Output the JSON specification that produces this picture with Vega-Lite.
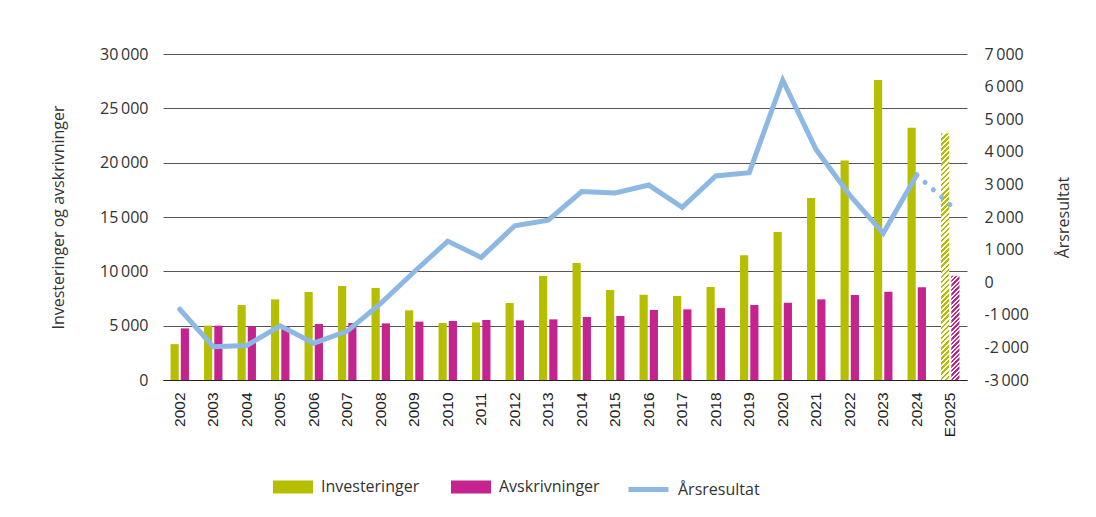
{
  "$schema": "https://vega.github.io/schema/vega-lite/v6.json",
  "width": 804,
  "height": 326,
  "autosize": "none",
  "padding": {"left": 163, "top": 54, "right": 129, "bottom": 137},
  "background": "#ffffff",
  "config": {
    "locale": {"number": {"decimal": ",", "thousands": "\u2009", "grouping": [3], "currency": ["", " kr"], "minus": "-"}},
    "font": "Open Sans",
    "view": {"stroke": null},
    "axis": {
      "labelFont": "Open Sans", "labelFontSize": 16, "labelColor": "#333333",
      "titleFont": "Open Sans", "titleFontSize": 16, "titleFontWeight": "normal", "titleColor": "#333333",
      "ticks": false, "domain": false
    },
    "legend": {"labelFont": "Open Sans", "labelFontSize": 16, "labelColor": "#333333"}
  },
  "data": {"values": [
    {"year": "2002", "Investeringer": 3300, "Avskrivninger": 4750, "Arsresultat": -830},
    {"year": "2003", "Investeringer": 5000, "Avskrivninger": 5000, "Arsresultat": -1980},
    {"year": "2004", "Investeringer": 6900, "Avskrivninger": 4950, "Arsresultat": -1940},
    {"year": "2005", "Investeringer": 7420, "Avskrivninger": 4900, "Arsresultat": -1340},
    {"year": "2006", "Investeringer": 8090, "Avskrivninger": 5150, "Arsresultat": -1870},
    {"year": "2007", "Investeringer": 8650, "Avskrivninger": 5240, "Arsresultat": -1500},
    {"year": "2008", "Investeringer": 8460, "Avskrivninger": 5210, "Arsresultat": -650},
    {"year": "2009", "Investeringer": 6410, "Avskrivninger": 5370, "Arsresultat": 320},
    {"year": "2010", "Investeringer": 5240, "Avskrivninger": 5430, "Arsresultat": 1260},
    {"year": "2011", "Investeringer": 5300, "Avskrivninger": 5520, "Arsresultat": 760},
    {"year": "2012", "Investeringer": 7080, "Avskrivninger": 5490, "Arsresultat": 1730},
    {"year": "2013", "Investeringer": 9570, "Avskrivninger": 5580, "Arsresultat": 1900},
    {"year": "2014", "Investeringer": 10760, "Avskrivninger": 5800, "Arsresultat": 2780},
    {"year": "2015", "Investeringer": 8280, "Avskrivninger": 5890, "Arsresultat": 2740},
    {"year": "2016", "Investeringer": 7850, "Avskrivninger": 6440, "Arsresultat": 2980},
    {"year": "2017", "Investeringer": 7730, "Avskrivninger": 6500, "Arsresultat": 2300},
    {"year": "2018", "Investeringer": 8560, "Avskrivninger": 6620, "Arsresultat": 3260},
    {"year": "2019", "Investeringer": 11470, "Avskrivninger": 6900, "Arsresultat": 3360},
    {"year": "2020", "Investeringer": 13610, "Avskrivninger": 7110, "Arsresultat": 6200},
    {"year": "2021", "Investeringer": 16740, "Avskrivninger": 7420, "Arsresultat": 4060},
    {"year": "2022", "Investeringer": 20210, "Avskrivninger": 7820, "Arsresultat": 2670},
    {"year": "2023", "Investeringer": 27600, "Avskrivninger": 8120, "Arsresultat": 1500},
    {"year": "2024", "Investeringer": 23210, "Avskrivninger": 8530, "Arsresultat": 3290},
    {"year": "E2025", "Investeringer": 22700, "Avskrivninger": 9600, "Arsresultat": 2370}
  ]},
  "encoding": {
    "x": {
      "field": "year", "type": "nominal", "sort": null,
      "scale": {"domain": ["2002","2003","2004","2005","2006","2007","2008","2009","2010","2011","2012","2013","2014","2015","2016","2017","2018","2019","2020","2021","2022","2023","2024","E2025"], "paddingInner": 0.45, "paddingOuter": 0.225},
      "axis": {"title": null, "labelAngle": -90, "labelFont": "Liberation Sans", "labelFontSize": 15.5, "labelPadding": 12, "labelColor": "#222222", "domain": true, "domainColor": "#222222", "domainWidth": 1}
    }
  },
  "layer": [
    {
      "transform": [{"fold": ["Investeringer", "Avskrivninger"], "as": ["serie", "verdi"]}],
      "encoding": {
        "xOffset": {"field": "serie", "type": "nominal", "scale": {"domain": ["Investeringer", "Avskrivninger"], "paddingInner": 0.2, "paddingOuter": 0}},
        "y": {
          "field": "verdi", "type": "quantitative",
          "scale": {"domain": [0, 30000], "nice": false},
          "axis": {"orient": "left", "values": [0, 5000, 10000, 15000, 20000, 25000, 30000], "format": ",d", "grid": true, "gridColor": "#555555", "gridWidth": 1, "labelPadding": 15, "title": "Investeringer og avskrivninger", "titlePadding": 33}
        }
      },
      "layer": [
        {
          "transform": [{"filter": "datum.year !== 'E2025'"}],
          "mark": {"type": "bar"},
          "encoding": {
            "fill": {
              "field": "serie", "type": "nominal",
              "scale": {"domain": ["Investeringer", "Avskrivninger"], "range": ["#b6be00", "#c5248f"]},
              "legend": {"orient": "none", "legendX": 110, "legendY": 413, "direction": "horizontal", "title": null, "symbolType": "M-1,-0.325H1V0.325H-1Z", "symbolSize": 1600, "symbolStrokeWidth": 0, "symbolOpacity": 1, "labelOffset": 8, "columnPadding": 31, "labelFontSize": 16}
            }
          }
        },
        {
          "transform": [{"filter": "datum.year === 'E2025'"}],
          "mark": {"type": "bar"},
          "encoding": {
            "fill": {
              "condition": {
                "test": "datum.serie === 'Investeringer'",
                "value": {"gradient": "linear", "x1": 0, "y1": 0, "x2": 0.0343, "y2": 1.0322, "stops": [
                  {"offset":0,"color":"#b6be00"},{"offset":0.01,"color":"#b6be00"},{"offset":0.01,"color":"#fff"},{"offset":0.02,"color":"#fff"},
                  {"offset":0.02,"color":"#b6be00"},{"offset":0.03,"color":"#b6be00"},{"offset":0.03,"color":"#fff"},{"offset":0.04,"color":"#fff"},
                  {"offset":0.04,"color":"#b6be00"},{"offset":0.05,"color":"#b6be00"},{"offset":0.05,"color":"#fff"},{"offset":0.06,"color":"#fff"},
                  {"offset":0.06,"color":"#b6be00"},{"offset":0.07,"color":"#b6be00"},{"offset":0.07,"color":"#fff"},{"offset":0.08,"color":"#fff"},
                  {"offset":0.08,"color":"#b6be00"},{"offset":0.09,"color":"#b6be00"},{"offset":0.09,"color":"#fff"},{"offset":0.10,"color":"#fff"},
                  {"offset":0.10,"color":"#b6be00"},{"offset":0.11,"color":"#b6be00"},{"offset":0.11,"color":"#fff"},{"offset":0.12,"color":"#fff"},
                  {"offset":0.12,"color":"#b6be00"},{"offset":0.13,"color":"#b6be00"},{"offset":0.13,"color":"#fff"},{"offset":0.14,"color":"#fff"},
                  {"offset":0.14,"color":"#b6be00"},{"offset":0.15,"color":"#b6be00"},{"offset":0.15,"color":"#fff"},{"offset":0.16,"color":"#fff"},
                  {"offset":0.16,"color":"#b6be00"},{"offset":0.17,"color":"#b6be00"},{"offset":0.17,"color":"#fff"},{"offset":0.18,"color":"#fff"},
                  {"offset":0.18,"color":"#b6be00"},{"offset":0.19,"color":"#b6be00"},{"offset":0.19,"color":"#fff"},{"offset":0.20,"color":"#fff"},
                  {"offset":0.20,"color":"#b6be00"},{"offset":0.21,"color":"#b6be00"},{"offset":0.21,"color":"#fff"},{"offset":0.22,"color":"#fff"},
                  {"offset":0.22,"color":"#b6be00"},{"offset":0.23,"color":"#b6be00"},{"offset":0.23,"color":"#fff"},{"offset":0.24,"color":"#fff"},
                  {"offset":0.24,"color":"#b6be00"},{"offset":0.25,"color":"#b6be00"},{"offset":0.25,"color":"#fff"},{"offset":0.26,"color":"#fff"},
                  {"offset":0.26,"color":"#b6be00"},{"offset":0.27,"color":"#b6be00"},{"offset":0.27,"color":"#fff"},{"offset":0.28,"color":"#fff"},
                  {"offset":0.28,"color":"#b6be00"},{"offset":0.29,"color":"#b6be00"},{"offset":0.29,"color":"#fff"},{"offset":0.30,"color":"#fff"},
                  {"offset":0.30,"color":"#b6be00"},{"offset":0.31,"color":"#b6be00"},{"offset":0.31,"color":"#fff"},{"offset":0.32,"color":"#fff"},
                  {"offset":0.32,"color":"#b6be00"},{"offset":0.33,"color":"#b6be00"},{"offset":0.33,"color":"#fff"},{"offset":0.34,"color":"#fff"},
                  {"offset":0.34,"color":"#b6be00"},{"offset":0.35,"color":"#b6be00"},{"offset":0.35,"color":"#fff"},{"offset":0.36,"color":"#fff"},
                  {"offset":0.36,"color":"#b6be00"},{"offset":0.37,"color":"#b6be00"},{"offset":0.37,"color":"#fff"},{"offset":0.38,"color":"#fff"},
                  {"offset":0.38,"color":"#b6be00"},{"offset":0.39,"color":"#b6be00"},{"offset":0.39,"color":"#fff"},{"offset":0.40,"color":"#fff"},
                  {"offset":0.40,"color":"#b6be00"},{"offset":0.41,"color":"#b6be00"},{"offset":0.41,"color":"#fff"},{"offset":0.42,"color":"#fff"},
                  {"offset":0.42,"color":"#b6be00"},{"offset":0.43,"color":"#b6be00"},{"offset":0.43,"color":"#fff"},{"offset":0.44,"color":"#fff"},
                  {"offset":0.44,"color":"#b6be00"},{"offset":0.45,"color":"#b6be00"},{"offset":0.45,"color":"#fff"},{"offset":0.46,"color":"#fff"},
                  {"offset":0.46,"color":"#b6be00"},{"offset":0.47,"color":"#b6be00"},{"offset":0.47,"color":"#fff"},{"offset":0.48,"color":"#fff"},
                  {"offset":0.48,"color":"#b6be00"},{"offset":0.49,"color":"#b6be00"},{"offset":0.49,"color":"#fff"},{"offset":0.50,"color":"#fff"},
                  {"offset":0.50,"color":"#b6be00"},{"offset":0.51,"color":"#b6be00"},{"offset":0.51,"color":"#fff"},{"offset":0.52,"color":"#fff"},
                  {"offset":0.52,"color":"#b6be00"},{"offset":0.53,"color":"#b6be00"},{"offset":0.53,"color":"#fff"},{"offset":0.54,"color":"#fff"},
                  {"offset":0.54,"color":"#b6be00"},{"offset":0.55,"color":"#b6be00"},{"offset":0.55,"color":"#fff"},{"offset":0.56,"color":"#fff"},
                  {"offset":0.56,"color":"#b6be00"},{"offset":0.57,"color":"#b6be00"},{"offset":0.57,"color":"#fff"},{"offset":0.58,"color":"#fff"},
                  {"offset":0.58,"color":"#b6be00"},{"offset":0.59,"color":"#b6be00"},{"offset":0.59,"color":"#fff"},{"offset":0.60,"color":"#fff"},
                  {"offset":0.60,"color":"#b6be00"},{"offset":0.61,"color":"#b6be00"},{"offset":0.61,"color":"#fff"},{"offset":0.62,"color":"#fff"},
                  {"offset":0.62,"color":"#b6be00"},{"offset":0.63,"color":"#b6be00"},{"offset":0.63,"color":"#fff"},{"offset":0.64,"color":"#fff"},
                  {"offset":0.64,"color":"#b6be00"},{"offset":0.65,"color":"#b6be00"},{"offset":0.65,"color":"#fff"},{"offset":0.66,"color":"#fff"},
                  {"offset":0.66,"color":"#b6be00"},{"offset":0.67,"color":"#b6be00"},{"offset":0.67,"color":"#fff"},{"offset":0.68,"color":"#fff"},
                  {"offset":0.68,"color":"#b6be00"},{"offset":0.69,"color":"#b6be00"},{"offset":0.69,"color":"#fff"},{"offset":0.70,"color":"#fff"},
                  {"offset":0.70,"color":"#b6be00"},{"offset":0.71,"color":"#b6be00"},{"offset":0.71,"color":"#fff"},{"offset":0.72,"color":"#fff"},
                  {"offset":0.72,"color":"#b6be00"},{"offset":0.73,"color":"#b6be00"},{"offset":0.73,"color":"#fff"},{"offset":0.74,"color":"#fff"},
                  {"offset":0.74,"color":"#b6be00"},{"offset":0.75,"color":"#b6be00"},{"offset":0.75,"color":"#fff"},{"offset":0.76,"color":"#fff"},
                  {"offset":0.76,"color":"#b6be00"},{"offset":0.77,"color":"#b6be00"},{"offset":0.77,"color":"#fff"},{"offset":0.78,"color":"#fff"},
                  {"offset":0.78,"color":"#b6be00"},{"offset":0.79,"color":"#b6be00"},{"offset":0.79,"color":"#fff"},{"offset":0.80,"color":"#fff"},
                  {"offset":0.80,"color":"#b6be00"},{"offset":0.81,"color":"#b6be00"},{"offset":0.81,"color":"#fff"},{"offset":0.82,"color":"#fff"},
                  {"offset":0.82,"color":"#b6be00"},{"offset":0.83,"color":"#b6be00"},{"offset":0.83,"color":"#fff"},{"offset":0.84,"color":"#fff"},
                  {"offset":0.84,"color":"#b6be00"},{"offset":0.85,"color":"#b6be00"},{"offset":0.85,"color":"#fff"},{"offset":0.86,"color":"#fff"},
                  {"offset":0.86,"color":"#b6be00"},{"offset":0.87,"color":"#b6be00"},{"offset":0.87,"color":"#fff"},{"offset":0.88,"color":"#fff"},
                  {"offset":0.88,"color":"#b6be00"},{"offset":0.89,"color":"#b6be00"},{"offset":0.89,"color":"#fff"},{"offset":0.90,"color":"#fff"},
                  {"offset":0.90,"color":"#b6be00"},{"offset":0.91,"color":"#b6be00"},{"offset":0.91,"color":"#fff"},{"offset":0.92,"color":"#fff"},
                  {"offset":0.92,"color":"#b6be00"},{"offset":0.93,"color":"#b6be00"},{"offset":0.93,"color":"#fff"},{"offset":0.94,"color":"#fff"},
                  {"offset":0.94,"color":"#b6be00"},{"offset":0.95,"color":"#b6be00"},{"offset":0.95,"color":"#fff"},{"offset":0.96,"color":"#fff"},
                  {"offset":0.96,"color":"#b6be00"},{"offset":0.97,"color":"#b6be00"},{"offset":0.97,"color":"#fff"},{"offset":0.98,"color":"#fff"},
                  {"offset":0.98,"color":"#b6be00"},{"offset":0.99,"color":"#b6be00"},{"offset":0.99,"color":"#fff"},{"offset":1,"color":"#fff"}
                ]}
              },
              "value": {"gradient": "linear", "x1": 0, "y1": 0, "x2": 0.0842, "y2": 1.0719, "stops": [
                {"offset":0,"color":"#c5248f"},{"offset":0.02,"color":"#c5248f"},{"offset":0.02,"color":"#fff"},{"offset":0.04,"color":"#fff"},
                {"offset":0.04,"color":"#c5248f"},{"offset":0.06,"color":"#c5248f"},{"offset":0.06,"color":"#fff"},{"offset":0.08,"color":"#fff"},
                {"offset":0.08,"color":"#c5248f"},{"offset":0.10,"color":"#c5248f"},{"offset":0.10,"color":"#fff"},{"offset":0.12,"color":"#fff"},
                {"offset":0.12,"color":"#c5248f"},{"offset":0.14,"color":"#c5248f"},{"offset":0.14,"color":"#fff"},{"offset":0.16,"color":"#fff"},
                {"offset":0.16,"color":"#c5248f"},{"offset":0.18,"color":"#c5248f"},{"offset":0.18,"color":"#fff"},{"offset":0.20,"color":"#fff"},
                {"offset":0.20,"color":"#c5248f"},{"offset":0.22,"color":"#c5248f"},{"offset":0.22,"color":"#fff"},{"offset":0.24,"color":"#fff"},
                {"offset":0.24,"color":"#c5248f"},{"offset":0.26,"color":"#c5248f"},{"offset":0.26,"color":"#fff"},{"offset":0.28,"color":"#fff"},
                {"offset":0.28,"color":"#c5248f"},{"offset":0.30,"color":"#c5248f"},{"offset":0.30,"color":"#fff"},{"offset":0.32,"color":"#fff"},
                {"offset":0.32,"color":"#c5248f"},{"offset":0.34,"color":"#c5248f"},{"offset":0.34,"color":"#fff"},{"offset":0.36,"color":"#fff"},
                {"offset":0.36,"color":"#c5248f"},{"offset":0.38,"color":"#c5248f"},{"offset":0.38,"color":"#fff"},{"offset":0.40,"color":"#fff"},
                {"offset":0.40,"color":"#c5248f"},{"offset":0.42,"color":"#c5248f"},{"offset":0.42,"color":"#fff"},{"offset":0.44,"color":"#fff"},
                {"offset":0.44,"color":"#c5248f"},{"offset":0.46,"color":"#c5248f"},{"offset":0.46,"color":"#fff"},{"offset":0.48,"color":"#fff"},
                {"offset":0.48,"color":"#c5248f"},{"offset":0.50,"color":"#c5248f"},{"offset":0.50,"color":"#fff"},{"offset":0.52,"color":"#fff"},
                {"offset":0.52,"color":"#c5248f"},{"offset":0.54,"color":"#c5248f"},{"offset":0.54,"color":"#fff"},{"offset":0.56,"color":"#fff"},
                {"offset":0.56,"color":"#c5248f"},{"offset":0.58,"color":"#c5248f"},{"offset":0.58,"color":"#fff"},{"offset":0.60,"color":"#fff"},
                {"offset":0.60,"color":"#c5248f"},{"offset":0.62,"color":"#c5248f"},{"offset":0.62,"color":"#fff"},{"offset":0.64,"color":"#fff"},
                {"offset":0.64,"color":"#c5248f"},{"offset":0.66,"color":"#c5248f"},{"offset":0.66,"color":"#fff"},{"offset":0.68,"color":"#fff"},
                {"offset":0.68,"color":"#c5248f"},{"offset":0.70,"color":"#c5248f"},{"offset":0.70,"color":"#fff"},{"offset":0.72,"color":"#fff"},
                {"offset":0.72,"color":"#c5248f"},{"offset":0.74,"color":"#c5248f"},{"offset":0.74,"color":"#fff"},{"offset":0.76,"color":"#fff"},
                {"offset":0.76,"color":"#c5248f"},{"offset":0.78,"color":"#c5248f"},{"offset":0.78,"color":"#fff"},{"offset":0.80,"color":"#fff"},
                {"offset":0.80,"color":"#c5248f"},{"offset":0.82,"color":"#c5248f"},{"offset":0.82,"color":"#fff"},{"offset":0.84,"color":"#fff"},
                {"offset":0.84,"color":"#c5248f"},{"offset":0.86,"color":"#c5248f"},{"offset":0.86,"color":"#fff"},{"offset":0.88,"color":"#fff"},
                {"offset":0.88,"color":"#c5248f"},{"offset":0.90,"color":"#c5248f"},{"offset":0.90,"color":"#fff"},{"offset":0.92,"color":"#fff"},
                {"offset":0.92,"color":"#c5248f"},{"offset":0.94,"color":"#c5248f"},{"offset":0.94,"color":"#fff"},{"offset":0.96,"color":"#fff"},
                {"offset":0.96,"color":"#c5248f"},{"offset":0.98,"color":"#c5248f"},{"offset":0.98,"color":"#fff"},{"offset":1,"color":"#fff"}
              ]}
            }
          }
        }
      ]
    },
    {
      "encoding": {
        "y": {
          "field": "Arsresultat", "type": "quantitative",
          "scale": {"domain": [-3000, 7000], "nice": false},
          "axis": {"orient": "right", "values": [-3000, -2000, -1000, 0, 1000, 2000, 3000, 4000, 5000, 6000, 7000], "format": ",d", "grid": false, "labelPadding": 17, "title": "Årsresultat", "titleAngle": 270, "titlePadding": 43}
        }
      },
      "layer": [
        {
          "transform": [{"filter": "datum.year !== 'E2025'"}],
          "mark": {"type": "line", "strokeWidth": 5, "strokeCap": "round", "strokeJoin": "miter"},
          "encoding": {
            "stroke": {
              "datum": "Årsresultat", "type": "nominal",
              "scale": {"domain": ["Årsresultat"], "range": ["#8cb8e3"]},
              "legend": {"orient": "none", "legendX": 463, "legendY": 413, "title": null, "symbolType": "stroke", "symbolSize": 1600, "symbolStrokeWidth": 5, "labelOffset": 7, "labelFontSize": 16}
            }
          }
        },
        {
          "transform": [{"filter": "datum.year === '2024' || datum.year === 'E2025'"}],
          "mark": {"type": "line", "strokeWidth": 5, "strokeCap": "round", "strokeDash": [0.1, 11], "color": "#8cb8e3"},
          "encoding": {}
        }
      ]
    }
  ],
  "resolve": {"scale": {"y": "independent"}}
}
